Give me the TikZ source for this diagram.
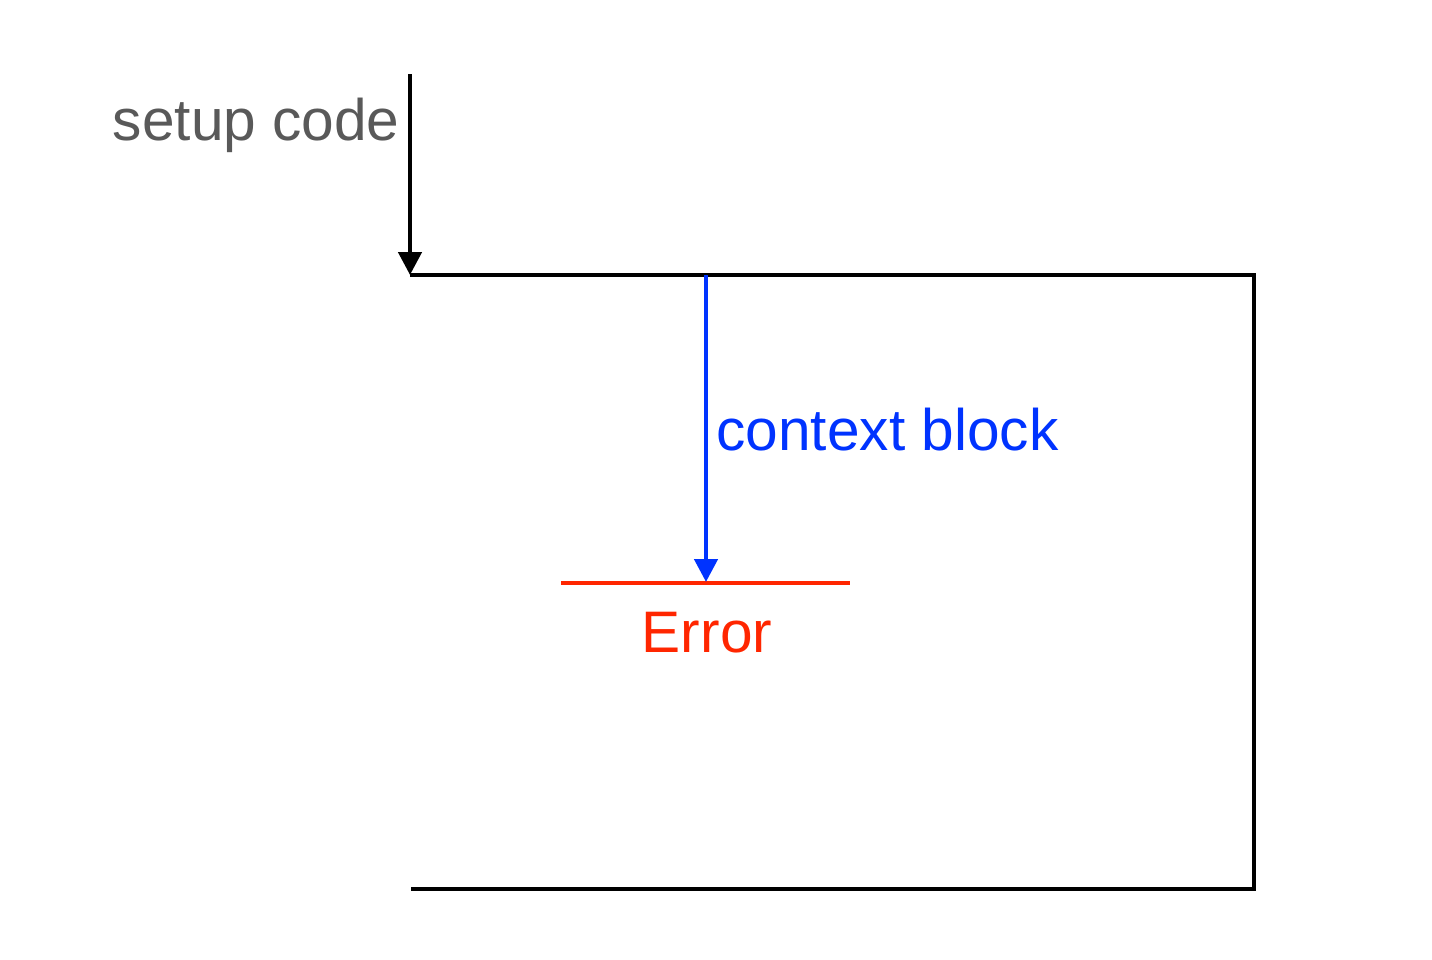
\documentclass[tikz,border=0pt]{standalone}
\usepackage{fontspec}
\setmainfont{Liberation Sans}
\usetikzlibrary{arrows.meta}
\definecolor{txtgray}{HTML}{595959}
\definecolor{ctxblue}{HTML}{0033FF}
\definecolor{errred}{HTML}{FF2600}
\begin{document}
\begin{tikzpicture}[x=0.5pt,y=-0.5pt,
  wire/.style={line width=2.3pt},
  tip/.style={-{Triangle[length=11.5pt,width=11.5pt]}},
  lbl/.style={inner sep=0pt,font=\fontsize{29.3pt}{34pt}\selectfont}]
\useasboundingbox (0,0) rectangle (1432,960);
\coordinate (s) at (410,74);
\coordinate (tl) at (410,275);
\coordinate (tr) at (1254,275);
\coordinate (br) at (1254,889);
\coordinate (bl) at (411,889);
\coordinate (ctop) at (706,275);
\coordinate (el) at (561,583);
\coordinate (er) at (850,583);
\coordinate (em) at (706,582);
\node[lbl,anchor=base east,text=txtgray] (setup) at (400,140) {setup code};
\node[lbl,anchor=base west,text=ctxblue] (ctx) at (716,450) {context block};
\node[lbl,anchor=base,text=errred] (err) at (707,652) {Error};
\draw[wire,tip] (s) -- (tl);
\draw[wire,miter limit=10] (tl) -- (tr) -- (br) -- (bl);
\draw[wire,errred] (el) -- (er);
\draw[wire,ctxblue,tip] (ctop) -- (em);
\end{tikzpicture}
\end{document}
